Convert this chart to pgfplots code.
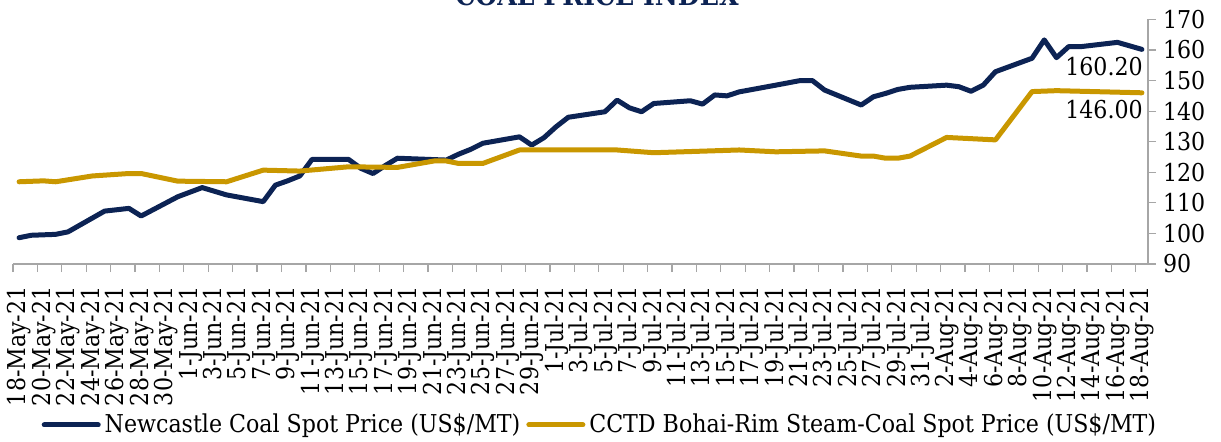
\documentclass[border=0pt]{standalone}
\usepackage{fontspec}
\setmainfont{DejaVu Serif Condensed}
\usepackage{pgfplots}
\pgfplotsset{compat=1.18}
\definecolor{navy}{HTML}{0C2354}
\definecolor{gold}{HTML}{C99700}
\definecolor{axgray}{HTML}{A6A6A6}
\begin{document}
\begin{tikzpicture}
\begin{axis}[
  scale only axis, width=567.5pt, height=122.3pt,
  xmin=-0.5, xmax=92.5, ymin=90, ymax=170,
  axis x line*=bottom, axis y line*=right,
  axis line style={axgray, line width=0.6pt},
  tick align=outside, major tick length=4pt,
  tick style={axgray, line width=0.6pt},
  ytick={90,100,...,170},
  yticklabel style={font=\fontsize{12.3}{14}\selectfont, /pgf/number format/assume math mode=true},
  xtick={-0.5,1.5,...,91.5},
  xticklabels={18-May-21,20-May-21,22-May-21,24-May-21,26-May-21,28-May-21,30-May-21,1-Jun-21,3-Jun-21,5-Jun-21,7-Jun-21,9-Jun-21,11-Jun-21,13-Jun-21,15-Jun-21,17-Jun-21,19-Jun-21,21-Jun-21,23-Jun-21,25-Jun-21,27-Jun-21,29-Jun-21,1-Jul-21,3-Jul-21,5-Jul-21,7-Jul-21,9-Jul-21,11-Jul-21,13-Jul-21,15-Jul-21,17-Jul-21,19-Jul-21,21-Jul-21,23-Jul-21,25-Jul-21,27-Jul-21,29-Jul-21,31-Jul-21,2-Aug-21,4-Aug-21,6-Aug-21,8-Aug-21,10-Aug-21,12-Aug-21,14-Aug-21,16-Aug-21,18-Aug-21},
  xticklabel style={font=\fontsize{12.3}{14}\selectfont, xshift=3.3pt, rotate=90, anchor=east, inner sep=0pt},
  xticklabel shift=7pt,
  legend columns=2,
  legend cell align=left,
  legend style={draw=none, at={(0.518,-0.658)}, anchor=center, font=\fontsize{12.3}{14}\selectfont,
    /tikz/every even column/.append style={column sep=1pt}},
  legend image code/.code={\draw[#1, line cap=round] (0pt,0pt) -- (27pt,0pt);},
  clip=false,
]
\addplot[navy, line width=2.5pt, line join=round, line cap=round] coordinates {
(0,98.6) (1,99.4) (3,99.7) (4,100.5) (7,107.3) (9,108.2) (10,105.7) (13,112.0) (15,115.0)
(17,112.6) (20,110.4) (21,115.8) (22,117.2) (23,118.8) (24,124.2) (27,124.2) (28,121.3)
(29,119.6) (30,122.2) (31,124.6) (35,124.0) (36,125.9) (37,127.5) (38,129.5) (41,131.6)
(42,128.9) (43,131.3) (44,134.9) (45,138.0) (48,139.8) (49,143.6) (50,141.1) (51,139.8)
(52,142.5) (55,143.4) (56,142.3) (57,145.3) (58,145.0) (59,146.3) (62,148.5) (64,150.0)
(65,150.0) (66,146.9) (69,142.0) (70,144.7) (71,145.8) (72,147.1) (73,147.8) (76,148.5)
(77,148.0) (78,146.5) (79,148.5) (80,152.9) (83,157.3) (84,163.3) (85,157.5) (86,161.1)
(87,161.1) (90,162.5) (92,160.2)
};
\addlegendentry{Newcastle Coal Spot Price (US\$/MT)}
\addplot[gold, line width=2.5pt, line join=round, line cap=round] coordinates {
(0,116.9) (2,117.2) (3,116.9) (6,118.8) (9,119.6) (10,119.6) (13,117.1) (17,116.9)
(20,120.7) (23,120.4) (27,121.8) (31,121.6) (34,123.7) (35,123.7) (36,122.9) (38,122.9)
(41,127.3) (49,127.3) (52,126.4) (59,127.3) (62,126.7) (66,127.0) (69,125.3) (70,125.3)
(71,124.6) (72,124.6) (73,125.3) (76,131.4) (80,130.6) (83,146.4) (85,146.7) (92,146.0)
};
\addlegendentry{CCTD Bohai-Rim Steam-Coal Spot Price (US\$/MT)}
\node[anchor=north east, inner sep=0pt, font=\fontsize{12.3}{14}\selectfont] at (axis cs:92.1,157.8) {160.20};
\node[anchor=north east, inner sep=0pt, font=\fontsize{12.3}{14}\selectfont] at (axis cs:92.1,143.8) {146.00};
\end{axis}
\node[anchor=base, font=\bfseries\fontsize{14}{16}\selectfont, text=navy] at (292pt,129.5pt) {COAL PRICE INDEX};
\pgfresetboundingbox
\useasboundingbox (-6.5pt,-88.5pt) rectangle (604pt,132pt);
\end{tikzpicture}
\end{document}
